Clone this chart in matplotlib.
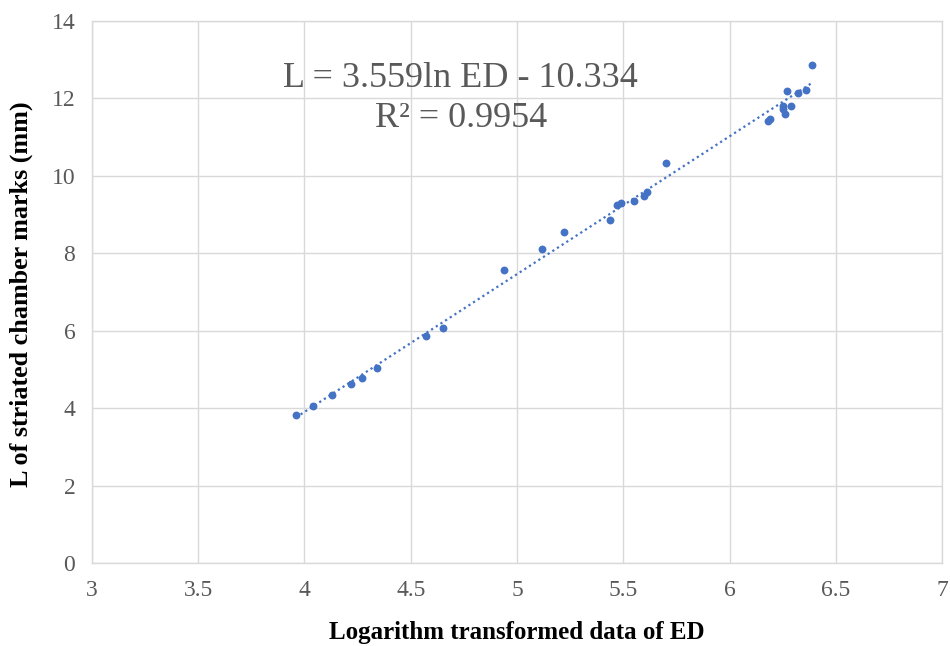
import numpy as np
import matplotlib
matplotlib.use('Agg')
import matplotlib.pyplot as plt

# valores
ln_ed = [3.96, 4.04, 4.13, 4.22, 4.27, 4.34, 4.57, 4.65, 4.94, 5.12, 5.22,
         5.44, 5.47, 5.49, 5.55, 5.60, 5.61, 5.70, 6.18, 6.19, 6.25, 6.25,
         6.26, 6.29, 6.27, 6.32, 6.36, 6.39]
comp_l = [3.82, 4.06, 4.34, 4.62, 4.78, 5.04, 5.86, 6.07, 7.57, 8.11, 8.55,
          8.86, 9.25, 9.30, 9.35, 9.48, 9.58, 10.33, 11.42, 11.47, 11.80, 11.72,
          11.60, 11.80, 12.20, 12.14, 12.22, 12.86]

# linha de tendência: L = a*lnED + b
coef_a = 3.559
coef_b = -10.334
eq_text = 'L = 3.559ln ED - 10.334'
r2_text = 'R² = 0.9954'

x_ticks = [3, 3.5, 4, 4.5, 5, 5.5, 6, 6.5, 7]
x_labels = ['3', '3.5', '4', '4.5', '5', '5.5', '6', '6.5', '7']
y_ticks = [0, 2, 4, 6, 8, 10, 12, 14]

plt.rcParams['font.family'] = ['Liberation Serif', 'DejaVu Serif']

cor = '#4472C4'
cinza = '#595959'
grade = '#d9d9d9'

fig = plt.figure(figsize=(9.5, 6.46), dpi=100)
ax = fig.add_axes([0.0968, 0.1285, 0.8948, 0.839])

x_fit = np.array([min(ln_ed), max(ln_ed)])
ax.plot(x_fit, coef_a * x_fit + coef_b, linestyle=(0, (1, 1.5)), color=cor, linewidth=1.6, zorder=2)
ax.scatter(ln_ed, comp_l, s=32, color=cor, zorder=3, linewidths=0)

ax.set_xlim(3, 7)
ax.set_ylim(0, 14)
ax.set_xticks(x_ticks)
ax.set_xticklabels(x_labels)
ax.set_yticks(y_ticks)
ax.grid(True, color=grade, linewidth=1)
ax.set_axisbelow(True)
for s in ax.spines.values():
    s.set_color(grade)
    s.set_linewidth(1)
ax.tick_params(length=0, labelsize=17, colors=cinza, pad=12)

ax.set_xlabel('Logarithm transformed data of ED', fontsize=18, fontweight='bold', labelpad=15)
ax.set_ylabel('L of striated chamber marks (mm)', fontsize=18.8, fontweight='bold')
ax.yaxis.set_label_coords(-0.069, 0.496)

ax.text(0.434, 0.857, eq_text + '\n' + r2_text, transform=ax.transAxes, ha='center', va='center',
        fontsize=26, color=cinza, linespacing=1.25)

fig.savefig('out.png', dpi=100)
